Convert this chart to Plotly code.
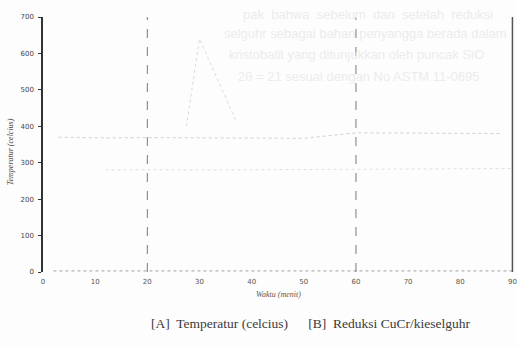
import plotly.graph_objects as go

# Data
time_peak = [27.5, 30, 37]
temp_peak = [400, 640, 415]

time_upper = [3, 12, 20, 30, 40, 50, 60, 70, 80, 88]
temp_upper = [370, 368, 369, 368, 366, 367, 382, 381, 380, 380]

time_mid = [12, 20, 30, 40, 50, 60, 70, 80, 90]
temp_mid = [280, 281, 280, 281, 282, 283, 283, 284, 284]

time_base = [2, 10, 20, 30, 40, 50, 60, 70, 80, 90]
temp_base = [3, 3, 4, 4, 3, 3, 4, 3, 3, 3]

x_ticks = [0, 10, 20, 30, 40, 50, 60, 70, 80, 90]
y_ticks = [0, 100, 200, 300, 400, 500, 600, 700]
marker_times = [20, 60]

bleed_lines = [
    "pak  bahwa  sebelum  dan  setelah  reduksi",
    "selguhr sebagai bahan penyangga berada dalam",
    "kristobalit yang ditunjukkan oleh puncak SiO",
    "2θ = 21 sesuai dengan No ASTM 11-0695",
]
bleed_x = [0.42, 0.38, 0.39, 0.41]
bleed_y = [1.01, 0.937, 0.851, 0.765]

fig = go.Figure()

fig.add_trace(go.Scatter(x=time_base, y=temp_base, mode="lines",
                         line=dict(color="#a0a0a0", width=1, dash="dot"),
                         showlegend=False, hoverinfo="skip"))
fig.add_trace(go.Scatter(x=time_upper, y=temp_upper, mode="lines",
                         line=dict(color="#d0d0d0", width=1, dash="dot"),
                         showlegend=False))
fig.add_trace(go.Scatter(x=time_mid, y=temp_mid, mode="lines",
                         line=dict(color="#e0e0e0", width=1, dash="dot"),
                         showlegend=False))
fig.add_trace(go.Scatter(x=time_peak, y=temp_peak, mode="lines",
                         line=dict(color="#dadada", width=1, dash="dot"),
                         showlegend=False))

for t in marker_times:
    fig.add_vline(x=t, line=dict(color="#7a7a7a", width=1, dash="dash"))
fig.add_vline(x=90, line=dict(color="#555555", width=1.5))

for txt, bx, by in zip(bleed_lines, bleed_x, bleed_y):
    fig.add_annotation(text=txt, xref="paper", yref="paper", x=bx, y=by,
                       xanchor="left", yanchor="middle", showarrow=False,
                       font=dict(family="Liberation Sans", size=13, color="#ececec"))

fig.add_annotation(text="[A]  Temperatur (celcius)      [B]  Reduksi CuCr/kieselguhr",
                   xref="paper", yref="paper", x=0.567, y=-0.2,
                   xanchor="center", yanchor="middle", showarrow=False,
                   font=dict(family="Liberation Serif", size=13.5, color="#3a3a3a"))

fig.add_annotation(text="<i>Temperatur (celcius)</i>", xref="paper", yref="paper",
                   x=-0.07, y=0.47, textangle=-90, showarrow=False,
                   xanchor="center", yanchor="middle",
                   font=dict(family="Liberation Serif", size=8, color="#444444"))

fig.update_xaxes(range=[0, 90.3], tickvals=x_ticks, showgrid=False, zeroline=False,
                 showline=False, ticks="", automargin=False, ticklabelstandoff=4,
                 tickfont=dict(family="DejaVu Sans", size=7, color="#555555"),
                 title=dict(text="<i>Waktu (menit)</i>", standoff=6,
                            font=dict(family="Liberation Serif", size=8, color="#555555")))
fig.update_yaxes(range=[0, 700], tickvals=y_ticks, showgrid=False, zeroline=False,
                 showline=True, linecolor="#333333", linewidth=1.5, automargin=False,
                 ticks="outside", ticklen=3, tickcolor="#333333", ticklabelstandoff=3,
                 tickfont=dict(family="DejaVu Sans", size=7, color="#444444"))

fig.update_layout(width=517, height=347, margin=dict(l=43, r=3, t=17, b=75),
                  paper_bgcolor="#fdfdfd", plot_bgcolor="#fdfdfd", showlegend=False)

fig.write_html("out.html", config={"displayModeBar": False})

# remove the browser's default page margin so the figure fills the window exactly
with open("out.html", encoding="utf-8") as f:
    html = f.read()
html = html.replace("<body>", '<body style="margin:0;overflow:hidden">', 1)
with open("out.html", "w", encoding="utf-8") as f:
    f.write(html)
